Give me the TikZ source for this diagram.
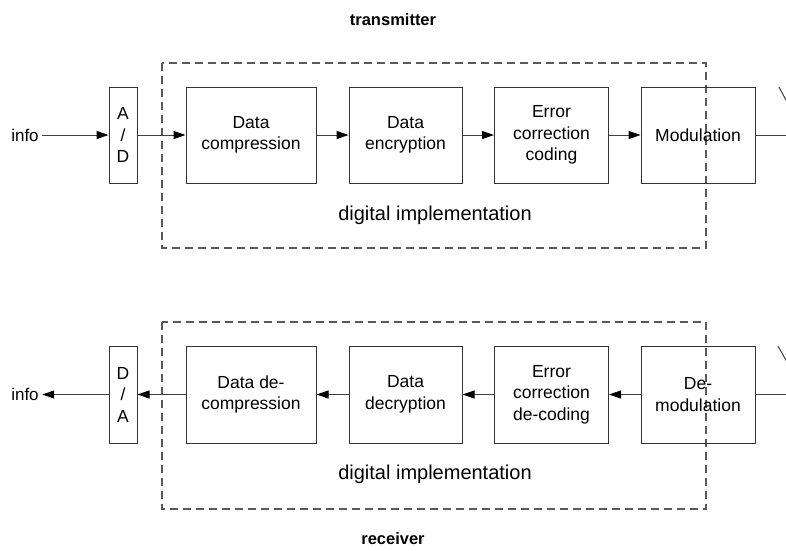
\documentclass[tikz,border=0pt]{standalone}
\usepackage{fontspec}
\setmainfont{Liberation Sans}
\usetikzlibrary{arrows.meta}

\begin{document}
\begin{tikzpicture}[
    x=1pt, y=-1pt,
    block/.style={draw=black!80,line width=1pt,align=center,inner sep=0pt,
        minimum height=96pt,font=\fontsize{17.5}{21.5}\selectfont},
    conv/.style={block,minimum width=28pt},
    frame/.style={draw=black!65,line width=1.1pt,dash pattern=on 8pt off 5pt},
    link/.style={draw=black!75,line width=1pt,-{Triangle[length=12pt,width=8pt,color=black]}},
    wire/.style={draw=black!75,line width=1pt},
    title/.style={font=\fontsize{16.5}{20}\selectfont\bfseries},
    note/.style={font=\fontsize{20}{24}\selectfont},
    every node/.style={font=\fontsize{17}{21.5}\selectfont}
]
\useasboundingbox (0,0) rectangle (786,550);

% Sender
\node[title] (tx) at (393,20) {transmitter};
\draw[frame] (162,63) rectangle (706,248);
\node[note] (txdig) at (435,215) {digital implementation};

\node (txinfo) at (25,135) {info};
\node[conv] (ad) at (123,135) {A\\/\\D};
\node[block,minimum width=130pt] (comp) at (251,135) {Data\\compression};
\node[block,minimum width=113pt] (enc) at (405.5,135) {Data\\encryption};
\node[block,minimum width=114pt] (ecc) at (551.5,135) {Error\\correction\\coding};
\node[block,minimum width=114pt] (mod) at (698,135) {Modulation};
\coordinate (txout) at (786,135);
\coordinate (txant1) at (779,87);
\coordinate (txant2) at (787,102);

\draw[link] (txinfo) -- (ad);
\draw[link] (ad) -- (comp);
\draw[link] (comp) -- (enc);
\draw[link] (enc) -- (ecc);
\draw[link] (ecc) -- (mod);
\draw[wire] (mod) -- (txout);
\draw[wire] (txant1) -- (txant2);

% Empfaenger
\node[title] (rx) at (393,539) {receiver};
\draw[frame] (162,322) rectangle (706,509);
\node[note] (rxdig) at (435,474) {digital implementation};

\node (rxinfo) at (25,394.5) {info};
\node[conv] (da) at (123,394.5) [minimum height=97pt] {D\\/\\A};
\node[block,minimum width=130pt,minimum height=97pt] (decomp) at (251,394.5) {Data de-\\compression};
\node[block,minimum width=113pt,minimum height=97pt] (dec) at (405.5,394.5) {Data\\decryption};
\node[block,minimum width=114pt,minimum height=97pt] (edc) at (551.5,394.5) {Error\\correction\\de-coding};
\node[block,minimum width=114pt,minimum height=97pt] (demod) at (698,394.5) {De-\\modulation};
\coordinate (rxin) at (786,394.5);
\coordinate (rxant1) at (778,346);
\coordinate (rxant2) at (787,362);

\draw[wire] (rxin) -- (demod);
\draw[link] (demod) -- (edc);
\draw[link] (edc) -- (dec);
\draw[link] (dec) -- (decomp);
\draw[link] (decomp) -- (da);
\draw[link] (da) -- (rxinfo);
\draw[wire] (rxant1) -- (rxant2);

\end{tikzpicture}
\end{document}
